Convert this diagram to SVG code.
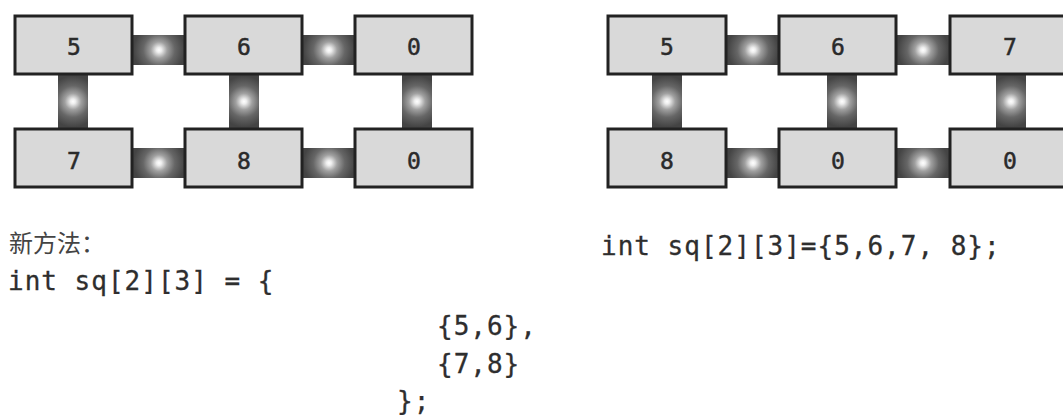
<svg xmlns="http://www.w3.org/2000/svg" width="1063" height="417" viewBox="0 0 1063 417">
<style>
.box{fill:#d9d9d9;stroke:#222;stroke-width:3}
.num{font-family:"DejaVu Sans Mono","Liberation Mono",monospace;font-size:23px;fill:#2a2a2a;text-anchor:middle;stroke:#2a2a2a;stroke-width:0.5}
.code{font-family:"DejaVu Sans Mono","Liberation Mono",monospace;font-size:26px;fill:#2e2e2e;letter-spacing:1px;stroke:#2e2e2e;stroke-width:0.3}
.cjk{font-family:"Liberation Serif","Noto Sans CJK SC",serif;font-size:24px;fill:#444}
.h{fill:url(#glowH)}
.v{fill:url(#glowV)}
</style>
<defs>
<radialGradient id="glowH" cx="0.5" cy="0.5" r="0.85" gradientTransform="translate(0.5,0.5) scale(0.577,1) translate(-0.5,-0.5)">
<stop offset="0" stop-color="#ffffff"/>
<stop offset="0.1" stop-color="#eeeeee"/>
<stop offset="0.32" stop-color="#a0a0a0"/>
<stop offset="0.62" stop-color="#666666"/>
<stop offset="1" stop-color="#444444"/>
</radialGradient>
<radialGradient id="glowV" cx="0.5" cy="0.5" r="0.85" gradientTransform="translate(0.5,0.5) scale(1,0.545) translate(-0.5,-0.5)">
<stop offset="0" stop-color="#ffffff"/>
<stop offset="0.1" stop-color="#eeeeee"/>
<stop offset="0.32" stop-color="#a0a0a0"/>
<stop offset="0.62" stop-color="#666666"/>
<stop offset="1" stop-color="#444444"/>
</radialGradient>
</defs>
<rect width="1063" height="417" fill="#ffffff"/>
<g id="connectors">
<rect class="h" x="133" y="35" width="52" height="30"/>
<rect class="h" x="303" y="35" width="52" height="30"/>
<rect class="h" x="133" y="148" width="52" height="30"/>
<rect class="h" x="303" y="148" width="52" height="30"/>
<rect class="v" x="58" y="74" width="30" height="55"/>
<rect class="v" x="229" y="74" width="30" height="55"/>
<rect class="v" x="402" y="74" width="30" height="55"/>
<rect class="h" x="727" y="35" width="52" height="30"/>
<rect class="h" x="897" y="35" width="52" height="30"/>
<rect class="h" x="727" y="148" width="52" height="30"/>
<rect class="h" x="897" y="148" width="52" height="30"/>
<rect class="v" x="652" y="74" width="30" height="55"/>
<rect class="v" x="827" y="74" width="30" height="55"/>
<rect class="v" x="996" y="74" width="30" height="55"/>
</g>
<g id="a00"><rect class="box" x="15" y="16" width="117" height="58"/><text class="num" x="74" y="55">5</text></g>
<g id="a01"><rect class="box" x="185" y="16" width="117" height="58"/><text class="num" x="244" y="55">6</text></g>
<g id="a02"><rect class="box" x="355" y="16" width="117" height="58"/><text class="num" x="414" y="55">0</text></g>
<g id="a10"><rect class="box" x="15" y="129" width="117" height="58"/><text class="num" x="74" y="169">7</text></g>
<g id="a11"><rect class="box" x="185" y="129" width="117" height="58"/><text class="num" x="244" y="169">8</text></g>
<g id="a12"><rect class="box" x="355" y="129" width="117" height="58"/><text class="num" x="414" y="169">0</text></g>
<g id="b00"><rect class="box" x="608" y="16" width="118" height="58"/><text class="num" x="667" y="55">5</text></g>
<g id="b01"><rect class="box" x="779" y="16" width="117" height="58"/><text class="num" x="838" y="55">6</text></g>
<g id="b02"><rect class="box" x="950" y="16" width="118" height="58"/><text class="num" x="1010" y="55">7</text></g>
<g id="b10"><rect class="box" x="608" y="129" width="118" height="58"/><text class="num" x="667" y="169">8</text></g>
<g id="b11"><rect class="box" x="779" y="129" width="117" height="58"/><text class="num" x="838" y="169">0</text></g>
<g id="b12"><rect class="box" x="950" y="129" width="118" height="58"/><text class="num" x="1010" y="169">0</text></g>
<g id="code-left">
<text class="cjk" x="9" y="252">新方法：</text>
<text class="code" x="8" y="290" xml:space="preserve">int sq[2][3] = {</text>
<text class="code" x="437" y="335">{5,6},</text>
<text class="code" x="437" y="373">{7,8}</text>
<text class="code" x="397" y="410">};</text>
</g>
<g id="code-right">
<text class="code" x="601" y="255" xml:space="preserve">int sq[2][3]={5,6,7, 8};</text>
</g>
</svg>
